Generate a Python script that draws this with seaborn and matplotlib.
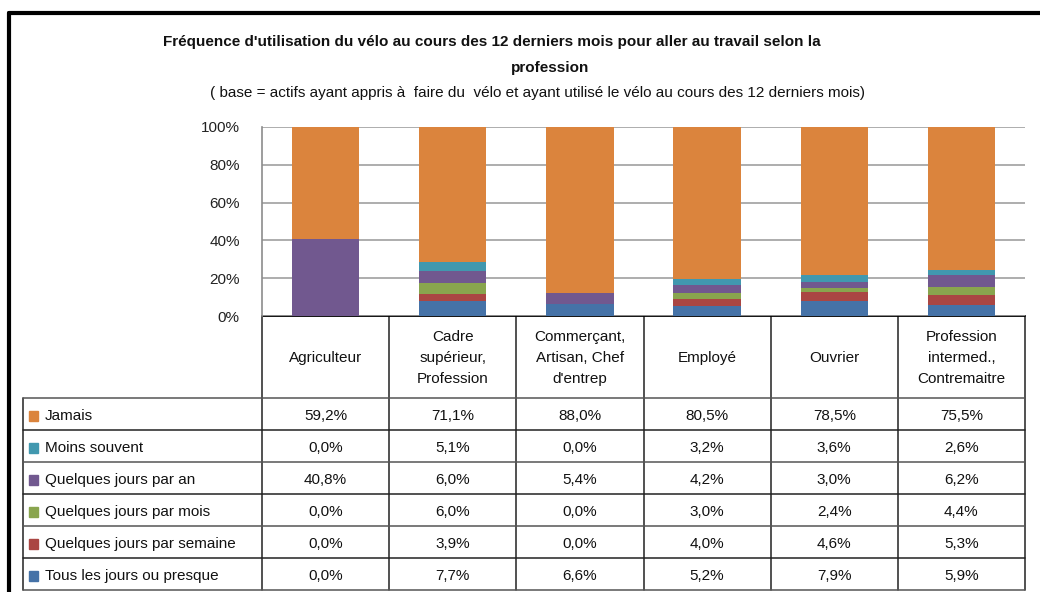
import matplotlib
matplotlib.use("Agg")
import matplotlib.pyplot as plt
import seaborn as sns
import numpy as np
import pandas as pd
from matplotlib.patches import Rectangle
from matplotlib.lines import Line2D

categories = ["Agriculteur", "Cadre\nsupérieur,\nProfession", "Commerçant,\nArtisan, Chef\nd'entrep",
              "Employé", "Ouvrier", "Profession\nintermed.,\nContremaitre"]
series_names = ["Jamais", "Moins souvent", "Quelques jours par an", "Quelques jours par mois",
                "Quelques jours par semaine", "Tous les jours ou presque"]
jamais = [59.2, 71.1, 88.0, 80.5, 78.5, 75.5]
moins_souvent = [0.0, 5.1, 0.0, 3.2, 3.6, 2.6]
par_an = [40.8, 6.0, 5.4, 4.2, 3.0, 6.2]
par_mois = [0.0, 6.0, 0.0, 3.0, 2.4, 4.4]
par_semaine = [0.0, 3.9, 0.0, 4.0, 4.6, 5.3]
tous_les_jours = [0.0, 7.7, 6.6, 5.2, 7.9, 5.9]
colors = ["#DB843D", "#4198AF", "#71588F", "#89A54E", "#AA4643", "#4572A7"]
yticks = [0, 20, 40, 60, 80, 100]

series = [jamais, moins_souvent, par_an, par_mois, par_semaine, tous_les_jours]

sns.set_theme(style="white")
plt.rcParams['font.family'] = ['Liberation Sans', 'DejaVu Sans']

W, H = 1040, 592
fig = plt.figure(figsize=(W / 100, H / 100), dpi=100)

# overlay axes in pixel coordinates
ov = fig.add_axes([0, 0, 1, 1])
ov.set_xlim(0, W)
ov.set_ylim(H, 0)
ov.axis("off")

left, right, top0, bot0 = 262, 1025, 127, 316
ax = fig.add_axes([left / W, 1 - bot0 / H, (right - left) / W, (bot0 - top0) / H])
ax.set_zorder(2)
ov.set_zorder(1)
ax.patch.set_alpha(0)

# stacked bars (bottom: Tous les jours ... top: Jamais)
df_rows = []
for name, vals in zip(series_names, series):
    for c, v in zip(categories, vals):
        df_rows.append({"cat": c, "serie": name, "val": v})
df = pd.DataFrame(df_rows)

bottom = np.zeros(len(categories))
for name, col in zip(series_names[::-1], colors[::-1]):
    vals = df[df.serie == name]["val"].to_numpy()
    ax.bar(np.arange(len(categories)), vals, bottom=bottom, width=0.53, color=col,
           edgecolor="none", zorder=3)
    bottom = bottom + vals

ax.set_xlim(-0.5, len(categories) - 0.5)
ax.set_ylim(0, 100)
ax.set_yticks(yticks)
ax.set_yticklabels([f"{t}%" for t in yticks], fontsize=11, color="#222222")
ax.set_xticks([])
ax.yaxis.grid(True, color="#A0A0A0", linewidth=1.2, zorder=0)
ax.xaxis.grid(False)
for s in ["top", "right", "bottom"]:
    ax.spines[s].set_visible(False)
ax.spines["left"].set_color("#8C8C8C")
ax.spines["left"].set_linewidth(1.2)
ax.tick_params(axis="y", length=0, pad=16)

# titles
ov.text(492, 42, "Fréquence d'utilisation du vélo au cours des 12 derniers mois pour aller au travail selon la",
        ha="center", va="center", fontsize=11, fontweight="bold", color="#111111")
ov.text(550, 68, "profession", ha="center", va="center", fontsize=11, fontweight="bold", color="#111111")
ov.text(537, 93, "( base = actifs ayant appris à  faire du  vélo et ayant utilisé le vélo au cours des 12 derniers mois)",
        ha="center", va="center", fontsize=11, color="#111111")

# outer frame
ov.add_line(Line2D([9, 9], [13, H], color="black", lw=3))
ov.add_line(Line2D([9, W], [13, 13], color="black", lw=3))

# table
ncol = len(categories)
colw = (right - left) / ncol
tbl_left = 23
header_top, header_bot = bot0, 398
row_h = (590 - header_bot) / len(series_names)
lc = "#222222"

# black baseline at 0%
ov.add_line(Line2D([left, right], [header_top, header_top], color="black", lw=1.3, zorder=3))
# header verticals
for i in range(ncol + 1):
    x = left + i * colw
    ov.add_line(Line2D([x, x], [header_top, 590], color=lc, lw=1.1))
ov.add_line(Line2D([tbl_left, tbl_left], [header_bot, 590], color=lc, lw=1.1))
for i, cat in enumerate(categories):
    ov.text(left + (i + 0.5) * colw, (header_top + header_bot) / 2 + 1, cat, ha="center", va="center",
            fontsize=11, linespacing=1.6, color="#111111")

for r in range(len(series_names) + 1):
    y = header_bot + r * row_h
    ov.add_line(Line2D([tbl_left, right], [y, y], color=lc if r % 2 else "#555555", lw=1.1))

for r, (name, vals, col) in enumerate(zip(series_names, series, colors)):
    yc = header_bot + (r + 0.5) * row_h + 2
    ov.add_patch(Rectangle((29, yc - 5), 9, 10, color=col))
    ov.text(45, yc, name, ha="left", va="center", fontsize=11, color="#111111")
    for i, v in enumerate(vals):
        ov.text(left + (i + 0.5) * colw, yc, f"{v:.1f}%".replace(".", ","), ha="center", va="center",
                fontsize=11, color="#111111")

fig.savefig("out.png", dpi=100)
